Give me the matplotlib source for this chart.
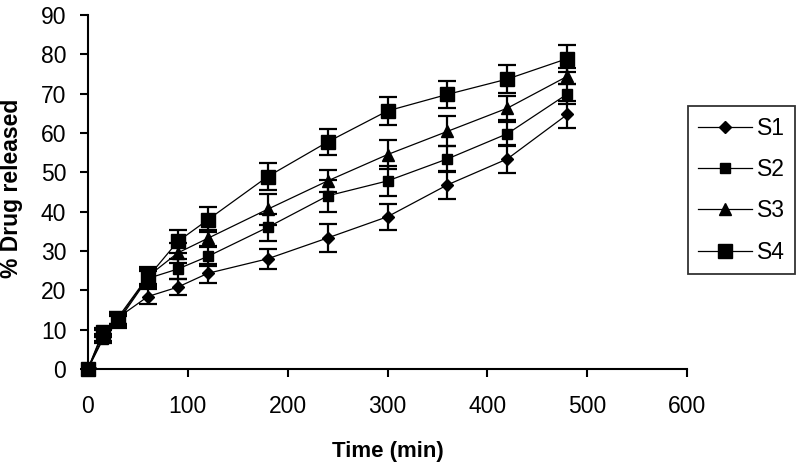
#!/usr/bin/env python3

import numpy as np
import matplotlib
matplotlib.use("Agg")
import matplotlib.pyplot as plt

plt.rcParams['font.family'] = ['Liberation Sans', 'DejaVu Sans']

# Sampling times (min)
time = [0, 15, 30, 60, 90, 120, 180, 240, 300, 360, 420, 480]

# % drug released (mean) per formulation
s1 = [0, 8.0, 13.0, 18.4, 20.8, 24.3, 28.0, 33.3, 38.7, 46.8, 53.4, 64.7]
s2 = [0, 7.5, 12.0, 23.0, 25.4, 28.6, 36.0, 44.0, 47.8, 53.4, 59.8, 69.9]
s3 = [0, 9.0, 13.0, 23.5, 29.5, 33.2, 40.6, 47.8, 54.5, 60.4, 66.3, 74.4]
s4 = [0, 9.5, 12.5, 23.3, 32.4, 37.9, 48.9, 57.7, 65.6, 69.8, 73.7, 78.9]

# error bars (SD)
e1 = [0, 1.0, 1.5, 1.8, 2.0, 2.5, 2.5, 3.6, 3.3, 3.6, 3.5, 3.4]
e2 = [0, 1.0, 1.5, 2.0, 2.5, 2.5, 3.4, 4.0, 3.8, 3.3, 3.0, 2.5]
e3 = [0, 1.0, 1.5, 2.0, 2.5, 2.0, 3.9, 2.8, 3.6, 3.8, 3.0, 2.0]
e4 = [0, 1.0, 1.5, 2.5, 3.0, 3.2, 3.4, 3.2, 3.5, 3.5, 3.5, 3.4]

labels = ['S1', 'S2', 'S3', 'S4']

fig = plt.figure(figsize=(7.99, 4.67), dpi=100)
ax = fig.add_axes([0.110, 0.210, 0.750, 0.758])

series = [(s1, e1, 'D', 6.5), (s2, e2, 's', 7), (s3, e3, '^', 8.5), (s4, e4, 's', 10)]
for (y, e, m, ms), lab in zip(series, labels):
    lines = ax.errorbar(time, y, yerr=e, color='black', marker=m, markersize=ms,
                        linewidth=0.9, elinewidth=1.6, capsize=6.5, capthick=1.6,
                        label=lab)
    lines[0].set_clip_on(False)

ax.set_xlim(0, 600)
ax.set_ylim(0, 90)
ax.set_xticks(np.arange(0, 601, 100))
ax.set_yticks(np.arange(0, 91, 10))
ax.spines['top'].set_visible(False)
ax.spines['right'].set_visible(False)
ax.spines['left'].set_linewidth(1.5)
ax.spines['bottom'].set_linewidth(1.5)
ax.tick_params(direction='out', length=5.5, width=1.5, labelsize=16.5)
ax.tick_params(axis='y', pad=10)
ax.tick_params(axis='x', pad=13)

ax.set_xlabel('Time (min)', fontsize=16, fontweight='bold', va='top')
ax.xaxis.set_label_coords(0.5, -0.205)
ax.set_ylabel('% Drug released', fontsize=16.5, fontweight='bold')
ax.yaxis.set_label_coords(-0.108, 0.51)

handles, labs = ax.get_legend_handles_labels()
handles = [h[0] for h in handles]
leg = fig.legend(handles, labs, loc='upper left', bbox_to_anchor=(0.861, 0.772),
                 frameon=True, fancybox=False, edgecolor='black', fontsize=16.5,
                 handlelength=2.35, labelspacing=0.8, borderpad=0.45,
                 handletextpad=0.2, borderaxespad=0)
leg.get_frame().set_linewidth(1.3)

fig.savefig('out.png', dpi=100)
